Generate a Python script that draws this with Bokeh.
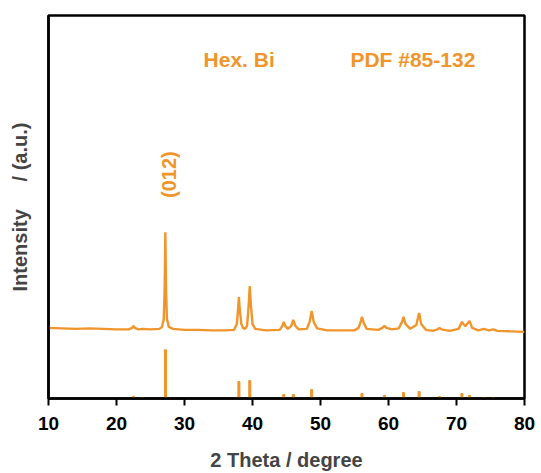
from bokeh.plotting import figure
from bokeh.models import FixedTicker, Label
from bokeh.embed import file_html
from bokeh.resources import INLINE
import math

two_theta = [10.0, 12.0, 14.0, 16.0, 18.0, 20.0, 21.8, 22.3, 22.5, 22.7, 23.2, 23.8, 25.0,
             26.3, 26.7, 26.95, 27.08, 27.18, 27.28, 27.42, 27.7, 28.3, 30.0, 32.0, 34.0,
             36.0, 37.3, 37.7, 37.88, 38.0, 38.12, 38.35, 38.6, 38.9, 39.2, 39.45, 39.6,
             39.75, 40.0, 40.4, 42.0, 44.0, 44.4, 44.6, 44.8, 45.2, 45.7, 46.0, 46.3, 46.8,
             48.0, 48.4, 48.7, 49.0, 49.5, 51.0, 53.0, 55.0, 55.6, 55.9, 56.1, 56.35, 56.8,
             58.5, 59.1, 59.4, 59.7, 60.5, 61.5, 62.0, 62.2, 62.5, 63.2, 64.1, 64.5, 64.8,
             65.5, 66.5, 67.2, 67.5, 67.8, 69.0, 70.3, 70.8, 71.3, 71.9, 72.3, 73.2, 74.0,
             74.8, 75.4, 76.0, 78.0, 80.0]
intensity = [71, 70.5, 70, 70.5, 70, 69.5, 69.5, 71, 73, 71, 69.5, 70, 69.5,
             70, 72, 80, 110, 167, 110, 80, 72, 70, 69, 69, 68.5,
             68.5, 69, 75, 90, 102, 90, 75, 71, 70, 73, 95, 113,
             95, 75, 70, 68.5, 69, 73, 77, 73, 70, 73, 79, 73, 69.5,
             70, 77, 88, 77, 70.5, 68.5, 68.5, 68.5, 71, 77, 82, 76, 70,
             69, 71, 73, 71, 69.5, 70.5, 77, 82, 75, 70, 74, 86, 75,
             69, 68, 69.5, 71, 69.5, 68, 70, 77, 72.5, 78, 71, 68.5, 70,
             68.5, 69.5, 68, 67.5, 67]

# Reference pattern, Hex. Bi PDF #85-132
ref_pos = [22.5, 23.8, 27.2, 38.0, 39.6, 44.6, 46.0, 48.7, 56.1, 59.4, 62.2, 64.5,
           67.5, 70.8, 71.9, 74.0, 75.4]
ref_int = [2, 1, 49, 17, 18, 4, 4, 9, 5, 3, 6, 7, 2, 5, 3, 1, 1]

x_ticks = [10, 20, 30, 40, 50, 60, 70, 80]

ORANGE = "#F0952B"
FONT = "Liberation Sans"

p = figure(width=541, height=473, x_range=(10, 80), y_range=(0, 385),
           output_backend="svg", toolbar_location=None,
           min_border_left=48, min_border_top=15, min_border_right=17, min_border_bottom=73)

p.line(two_theta, intensity, line_color=ORANGE, line_width=2.4)
p.vbar(x=ref_pos, top=ref_int, bottom=0, width=0.3, color=ORANGE)

p.xgrid.visible = False
p.ygrid.visible = False
p.outline_line_color = "black"
p.outline_line_width = 2.5
p.outline_line_alpha = 1

p.xaxis.ticker = FixedTicker(ticks=x_ticks)
p.xaxis.minor_tick_line_color = None
p.xaxis.major_tick_in = 0
p.xaxis.major_tick_out = 7
p.xaxis.major_tick_line_width = 2
p.xaxis.axis_line_width = 2.5
p.xaxis.major_label_text_font = FONT
p.xaxis.major_label_text_font_size = "19px"
p.xaxis.major_label_text_font_style = "bold"
p.xaxis.major_label_text_color = "black"
p.xaxis.major_label_standoff = 11
p.xaxis.axis_label = "2 Theta / degree"
p.xaxis.axis_label_text_font = FONT
p.xaxis.axis_label_text_font_size = "20px"
p.xaxis.axis_label_text_font_style = "bold"
p.xaxis.axis_label_standoff = 16

p.yaxis.ticker = FixedTicker(ticks=[])
p.yaxis.minor_tick_line_color = None
p.yaxis.major_tick_line_color = None
p.yaxis.axis_line_width = 2.5
p.yaxis.axis_label = "Intensity\u00a0\u00a0\u00a0\u00a0 / (a.u.)"
p.yaxis.axis_label_text_font = FONT
p.yaxis.axis_label_text_font_size = "20px"
p.yaxis.axis_label_text_font_style = "bold"
p.yaxis.axis_label_standoff = 18

p.add_layout(Label(x=32.8, y=341, text="Hex. Bi", text_font=FONT, text_font_size="21px",
                   text_font_style="bold", text_color=ORANGE, text_baseline="alphabetic"))
p.add_layout(Label(x=54.4, y=341, text="PDF #85-132", text_font=FONT, text_font_size="21px",
                   text_font_style="bold", text_color=ORANGE, text_baseline="alphabetic"))
p.add_layout(Label(x=27.65, y=225, text="(012)", angle=math.pi / 2, text_font=FONT,
                   text_font_size="20px", text_font_style="bold", text_color=ORANGE,
                   text_align="center", text_baseline="middle"))

open("out.html", "w").write(file_html(p, INLINE))
